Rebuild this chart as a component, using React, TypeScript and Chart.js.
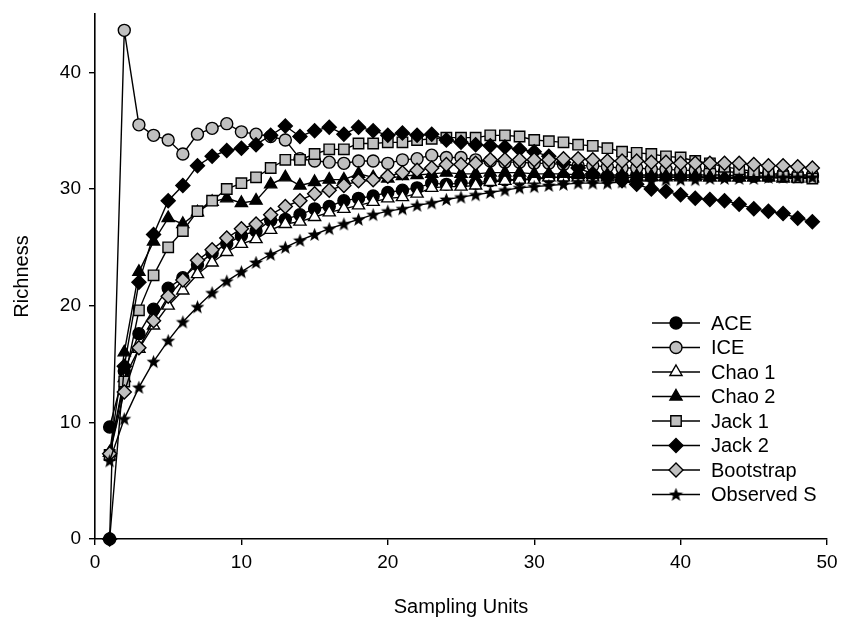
import { useEffect, useRef } from 'react';
import { Chart, registerables } from 'chart.js';
import { drawPoint } from 'chart.js/helpers';

Chart.register(...registerables);

const SAMPLING_UNITS = [1, 2, 3, 4, 5, 6, 7, 8, 9, 10, 11, 12, 13, 14, 15, 16, 17, 18, 19, 20, 21, 22, 23, 24, 25, 26, 27, 28, 29, 30, 31, 32, 33, 34, 35, 36, 37, 38, 39, 40, 41, 42, 43, 44, 45, 46, 47, 48, 49];

const ACE = [9.6, 14.4, 17.6, 19.7, 21.5, 22.4, 23.5, 24.5, 25.3, 26.0, 26.4, 27.3, 27.4, 27.8, 28.3, 28.5, 29.0, 29.2, 29.4, 29.7, 29.9, 30.1, 30.5, 30.4, 30.5, 30.5, 30.7, 30.8, 30.8, 30.9, 31.0, 31.0, 31.1, 31.1, 31.1, 31.1, 31.2, 31.2, 31.2, 31.2, 31.2, 31.2, 31.2, 31.1, 31.1, 31.1, 31.1, 31.1, 31.1];
const ICE = [0, 43.6, 35.5, 34.6, 34.2, 33.0, 34.7, 35.2, 35.6, 34.9, 34.7, 34.5, 34.2, 32.6, 32.4, 32.3, 32.2, 32.4, 32.4, 32.2, 32.5, 32.6, 32.9, 32.7, 32.7, 32.5, 32.4, 32.3, 32.3, 32.2, 32.2, 32.1, 32.0, 32.0, 31.9, 31.8, 31.8, 31.7, 31.7, 31.6, 31.6, 31.5, 31.5, 31.4, 31.4, 31.3, 31.3, 31.2, 31.2];
const CHAO1 = [7.4, 13.8, 16.3, 18.3, 20.0, 21.3, 22.7, 23.7, 24.6, 25.3, 25.7, 26.5, 27.0, 27.2, 27.6, 28.0, 28.3, 28.6, 28.9, 29.2, 29.3, 29.6, 30.1, 30.2, 30.2, 30.3, 30.6, 30.7, 30.8, 30.8, 31.0, 31.0, 31.0, 31.0, 31.0, 31.0, 31.0, 31.0, 31.0, 31.0, 31.0, 31.0, 31.0, 31.0, 31.0, 31.0, 30.9, 30.9, 30.9];
const CHAO2 = [7.4, 16.0, 22.9, 25.5, 27.5, 27.0, 28.0, 28.9, 29.2, 28.8, 29.0, 30.4, 31.0, 30.3, 30.6, 30.8, 30.8, 31.3, 31.0, 30.9, 31.1, 31.2, 31.3, 31.4, 31.3, 31.3, 31.4, 31.4, 31.4, 31.3, 31.3, 31.3, 31.2, 31.2, 31.2, 31.2, 31.1, 31.1, 31.1, 31.1, 31.1, 31.0, 31.0, 31.0, 31.0, 31.0, 31.0, 31.0, 31.0];
const JACK1 = [7.2, 13.5, 19.6, 22.6, 25.0, 26.4, 28.1, 29.0, 30.0, 30.5, 31.0, 31.8, 32.5, 32.5, 33.0, 33.4, 33.4, 33.9, 33.9, 34.0, 34.0, 34.2, 34.3, 34.4, 34.4, 34.4, 34.6, 34.6, 34.5, 34.2, 34.1, 34.0, 33.8, 33.7, 33.5, 33.2, 33.1, 33.0, 32.8, 32.7, 32.4, 32.2, 31.9, 31.7, 31.5, 31.3, 31.1, 31.0, 30.9];
const JACK2 = [0, 14.8, 22.0, 26.1, 29.0, 30.3, 32.0, 32.8, 33.3, 33.5, 33.8, 34.6, 35.4, 34.5, 35.0, 35.3, 34.7, 35.3, 35.0, 34.6, 34.8, 34.6, 34.7, 34.2, 34.0, 33.8, 33.7, 33.6, 33.4, 33.2, 32.8, 32.3, 31.8, 31.3, 31.0, 30.7, 30.4, 30.0, 29.8, 29.5, 29.2, 29.1, 29.0, 28.7, 28.3, 28.1, 27.9, 27.5, 27.2];
const BOOTSTRAP = [7.3, 12.6, 16.4, 18.7, 20.8, 22.2, 23.9, 24.8, 25.8, 26.6, 27.0, 27.8, 28.5, 29.0, 29.6, 29.9, 30.3, 30.7, 30.8, 31.1, 31.4, 31.6, 31.8, 32.1, 32.1, 32.2, 32.5, 32.5, 32.5, 32.5, 32.5, 32.6, 32.6, 32.5, 32.4, 32.4, 32.4, 32.3, 32.3, 32.2, 32.2, 32.2, 32.2, 32.2, 32.1, 32.0, 32.0, 31.9, 31.8];
const OBSERVED = [6.7, 10.3, 13.0, 15.2, 17.0, 18.6, 19.9, 21.1, 22.1, 22.9, 23.7, 24.4, 25.0, 25.6, 26.1, 26.6, 27.0, 27.4, 27.8, 28.1, 28.3, 28.6, 28.8, 29.1, 29.3, 29.5, 29.7, 29.9, 30.1, 30.2, 30.3, 30.4, 30.5, 30.5, 30.5, 30.6, 30.7, 30.7, 30.8, 30.8, 30.8, 30.9, 30.9, 30.9, 30.9, 31.0, 31.0, 31.0, 31.0];

const SERIES_NAMES = ['ACE', 'ICE', 'Chao 1', 'Chao 2', 'Jack 1', 'Jack 2', 'Bootstrap', 'Observed S'];
const SERIES_VALUES = [ACE, ICE, CHAO1, CHAO2, JACK1, JACK2, BOOTSTRAP, OBSERVED];

const X_TITLE = 'Sampling Units';
const Y_TITLE = 'Richness';
const Y_TICKS = [0, 10, 20, 30, 40];

const GRAY = '#c0c0c0';
const FONT = '"Liberation Sans", Arial, sans-serif';
const W = 844;
const H = 628;

function makeStar(): HTMLCanvasElement {
  const c = document.createElement('canvas');
  c.width = 15;
  c.height = 15;
  const ctx = c.getContext('2d')!;
  const cx = 7.5, cy = 8, R = 7.3, r = 3.1;
  ctx.beginPath();
  for (let i = 0; i < 10; i++) {
    const rad = i % 2 === 0 ? R : r;
    const a = -Math.PI / 2 + (i * Math.PI) / 5;
    const px = cx + rad * Math.cos(a);
    const py = cy + rad * Math.sin(a);
    if (i === 0) ctx.moveTo(px, py);
    else ctx.lineTo(px, py);
  }
  ctx.closePath();
  ctx.fillStyle = '#000';
  ctx.fill();
  return c;
}

export default function App() {
  const ref = useRef<HTMLCanvasElement | null>(null);

  useEffect(() => {
    if (!ref.current) return;
    const star = makeStar();
    const styles: any[] = [
      { pointStyle: 'circle', radius: 6, fill: '#000' },
      { pointStyle: 'circle', radius: 6, fill: GRAY },
      { pointStyle: 'triangle', radius: 7, fill: '#fff' },
      { pointStyle: 'triangle', radius: 7, fill: '#000' },
      { pointStyle: 'rect', radius: 7.4, fill: GRAY },
      { pointStyle: 'rectRot', radius: 7, fill: '#000' },
      { pointStyle: 'rectRot', radius: 7, fill: GRAY },
      { pointStyle: star, radius: 7, fill: '#000' },
    ];

    const datasets = SERIES_NAMES.map((name, i) => ({
      label: name,
      data: SAMPLING_UNITS.map((x, j) => ({ x, y: SERIES_VALUES[i][j] })),
      borderColor: '#000',
      borderWidth: 1.4,
      backgroundColor: styles[i].fill,
      pointStyle: styles[i].pointStyle,
      pointRadius: styles[i].radius,
      pointBorderColor: '#000',
      pointBackgroundColor: styles[i].fill,
      pointBorderWidth: 1.4,
      tension: 0,
      clip: false as any,
      order: SERIES_NAMES.length - i,
    }));

    const legendPlugin = {
      id: 'customLegend',
      afterDraw(chart: any) {
        const ctx = chart.ctx as CanvasRenderingContext2D;
        ctx.save();
        const x0 = 652, x1 = 700, mx = 676, tx = 711;
        SERIES_NAMES.forEach((name, i) => {
          const y = 323 + i * 24.5;
          ctx.strokeStyle = '#000';
          ctx.lineWidth = 1.6;
          ctx.beginPath();
          ctx.moveTo(x0, y);
          ctx.lineTo(x1, y);
          ctx.stroke();
          ctx.fillStyle = styles[i].fill;
          ctx.strokeStyle = '#000';
          ctx.lineWidth = 1.4;
          drawPoint(ctx, { pointStyle: styles[i].pointStyle, radius: styles[i].radius, rotation: 0, borderWidth: 1.4 } as any, mx, y);
          ctx.fillStyle = '#000';
          ctx.font = `20px ${FONT}`;
          ctx.textAlign = 'left';
          ctx.textBaseline = 'middle';
          ctx.fillText(name, tx, y + 1);
        });
        // axis titles
        ctx.fillStyle = '#000';
        ctx.font = `20px ${FONT}`;
        ctx.textAlign = 'center';
        ctx.textBaseline = 'middle';
        const area = chart.chartArea;
        ctx.fillText(X_TITLE, (area.left + area.right) / 2, 607);
        ctx.save();
        ctx.translate(22, (area.top + area.bottom) / 2);
        ctx.rotate(-Math.PI / 2);
        ctx.fillText(Y_TITLE, 0, 0);
        ctx.restore();
        ctx.restore();
      },
    };

    const chart = new Chart(ref.current, {
      type: 'line',
      data: { datasets },
      plugins: [legendPlugin],
      options: {
        animation: false,
        responsive: false,
        maintainAspectRatio: false,
        layout: { padding: { left: 0, right: 17, top: 14, bottom: 0 } },
        plugins: { legend: { display: false }, tooltip: { enabled: false } },
        scales: {
          x: {
            type: 'linear',
            min: 0,
            max: 50,
            ticks: { stepSize: 10, color: '#000', font: { family: FONT, size: 19 }, padding: 6, maxRotation: 0 },
            grid: { drawOnChartArea: false, drawTicks: true, tickLength: 6, color: '#000', lineWidth: 1.4 },
            border: { display: true, color: '#000', width: 1.6 },
            afterFit(scale: any) {
              scale.height = 89;
              scale.paddingLeft = 0;
              scale.paddingRight = 0;
            },
          },
          y: {
            type: 'linear',
            min: 0,
            max: 45,
            ticks: { stepSize: 10, color: '#000', font: { family: FONT, size: 19 }, padding: 8 },
            grid: { drawOnChartArea: false, drawTicks: true, tickLength: 6, color: '#000', lineWidth: 1.4 },
            border: { display: true, color: '#000', width: 1.6 },
            afterBuildTicks(scale: any) {
              scale.ticks = Y_TICKS.map((v) => ({ value: v }));
            },
            afterFit(scale: any) {
              scale.width = 95;
              scale.paddingTop = 0;
              scale.paddingBottom = 0;
            },
          },
        },
      } as any,
    });
    return () => chart.destroy();
  }, []);

  return (
    <div style={{ position: 'absolute', left: 0, top: 0, width: W, height: H, background: '#fff' }}>
      <canvas ref={ref} width={W} height={H} style={{ display: 'block' }} />
    </div>
  );
}
